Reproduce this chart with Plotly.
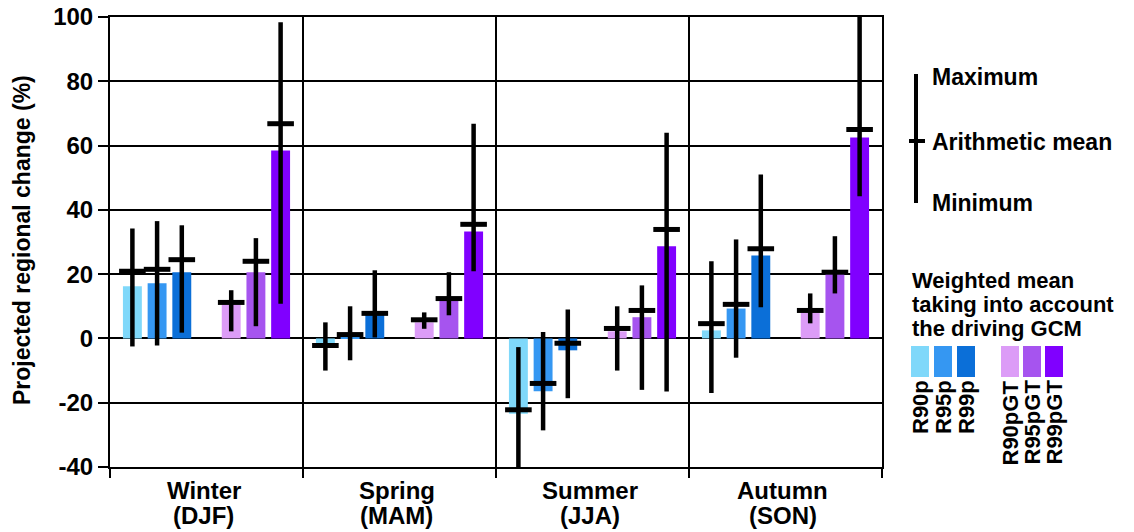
import plotly.graph_objects as go

seasons = ["Winter", "Spring", "Summer", "Autumn"]
season_codes = ["(DJF)", "(MAM)", "(JJA)", "(SON)"]
series = ["R90p", "R95p", "R99p", "R90pGT", "R95pGT", "R99pGT"]
colors = ["#7fd8fa", "#3597f2", "#0b6fd8", "#dc9cf7", "#a654ef", "#8000ff"]
slots = [0, 1, 2, 4, 5, 6]
y_ticks = [-40, -20, 0, 20, 40, 60, 80, 100]
y_tick_labels = ["-40", "-20", "0", "20", "40", "60", "80", "100"]

weighted = {
    "R90p": [16.2, -1.6, -23.4, 2.5],
    "R95p": [17.2, 0.6, -16.4, 9.3],
    "R99p": [20.6, 7.8, -3.7, 25.8],
    "R90pGT": [10.6, 5.0, 2.2, 8.1],
    "R95pGT": [20.6, 11.8, 6.6, 20.2],
    "R99pGT": [58.5, 33.3, 28.7, 62.5],
}
mean = {
    "R90p": [20.9, -2.2, -22.2, 4.6],
    "R95p": [21.5, 1.2, -14.0, 10.6],
    "R99p": [24.5, 7.8, -1.5, 27.9],
    "R90pGT": [11.2, 5.8, 3.1, 8.7],
    "R95pGT": [24.0, 12.4, 8.7, 20.6],
    "R99pGT": [66.8, 35.5, 33.9, 65.0],
}
vmax = {
    "R90p": [34.2, 5.0, -2.7, 24.0],
    "R95p": [36.5, 10.0, 2.0, 30.8],
    "R99p": [35.2, 21.2, 9.0, 51.0],
    "R90pGT": [15.0, 8.1, 10.0, 14.0],
    "R95pGT": [31.2, 20.6, 16.5, 31.8],
    "R99pGT": [98.4, 66.8, 64.0, 100.0],
}
vmin = {
    "R90p": [-2.5, -10.0, -40.0, -17.0],
    "R95p": [-2.2, -6.8, -28.6, -6.0],
    "R99p": [1.8, 0.3, -18.6, 9.7],
    "R90pGT": [2.2, 3.0, -10.0, 4.7],
    "R95pGT": [3.8, 7.2, -16.0, 14.0],
    "R99pGT": [10.8, 20.9, -16.5, 44.2],
}

W, H = 1134, 532
L, R, T, B = 110, 252, 17, 65
PW, PH = W - L - R, H - T - B
FONT = "Liberation Sans"


def px(x):
    return (x - L) / PW


def py(y):
    return (H - B - y) / PH


def bold(size):
    return dict(family=FONT, size=size, weight="bold", color="black")


fig = go.Figure()
step = 0.128
for k, s in enumerate(series):
    xs = [i + (slots[k] - 3) * step for i in range(len(seasons))]
    fig.add_trace(go.Bar(x=xs, y=weighted[s], width=0.098, marker=dict(color=colors[k], line=dict(width=0)),
                         name=s, showlegend=False))
for k, s in enumerate(series):
    xs = [i + (slots[k] - 3) * step for i in range(len(seasons))]
    fig.add_trace(go.Scatter(
        x=xs, y=mean[s], mode="markers", showlegend=False, name=s + " mean",
        marker=dict(symbol="line-ew", size=19, line=dict(width=5, color="black"), color="black"),
        error_y=dict(type="data", symmetric=False,
                     array=[a - m for a, m in zip(vmax[s], mean[s])],
                     arrayminus=[m - b for m, b in zip(mean[s], vmin[s])],
                     thickness=4.5, width=0, color="black"),
    ))

fig.update_layout(
    width=W, height=H, margin=dict(l=L, r=R, t=T, b=B, autoexpand=False),
    plot_bgcolor="white", paper_bgcolor="white", barmode="overlay",
    font=dict(family=FONT, color="black"),
)
fig.update_xaxes(
    range=[-0.5, 3.5], tickvals=list(range(len(seasons))), showticklabels=False,
    ticks="", showgrid=False, zeroline=False, automargin=False,
    showline=True, linecolor="black", linewidth=2, mirror=True,
    minor=dict(tick0=-0.5, dtick=1, showgrid=True, gridcolor="black", gridwidth=2,
               ticks="outside", ticklen=9, tickcolor="black", tickwidth=2),
)
fig.update_yaxes(
    range=[-40, 100], tickvals=y_ticks, ticktext=y_tick_labels,
    showgrid=True, gridcolor="black", gridwidth=2,
    zeroline=True, zerolinecolor="black", zerolinewidth=2, automargin=False,
    showline=True, linecolor="black", linewidth=2, mirror=True,
    ticks="outside", ticklen=10, tickcolor="black", tickwidth=2,
    tickfont=bold(24),
)

# y-axis title
fig.add_annotation(text="Projected regional change (%)", xref="paper", yref="paper", x=px(22), y=py(240),
                   xanchor="center", yanchor="middle", textangle=-90, showarrow=False, font=bold(23))

# season labels (two tight lines)
for i, (sn, sc) in enumerate(zip(seasons, season_codes)):
    fig.add_annotation(text=sn, xref="x", yref="paper", x=i - 0.015, y=py(491), xanchor="center",
                       yanchor="middle", showarrow=False, font=bold(24))
    fig.add_annotation(text=sc, xref="x", yref="paper", x=i - 0.015, y=py(515), xanchor="center",
                       yanchor="middle", showarrow=False, font=bold(24))

# Legend: max / mean / min key
fig.add_shape(type="line", xref="paper", yref="paper", x0=px(916), x1=px(916), y0=py(74), y1=py(203),
              line=dict(color="black", width=4))
fig.add_shape(type="line", xref="paper", yref="paper", x0=px(909), x1=px(925), y0=py(141), y1=py(141),
              line=dict(color="black", width=4))
for txt, yy in [("Maximum", 77), ("Arithmetic mean", 142), ("Minimum", 203)]:
    fig.add_annotation(text=txt, xref="paper", yref="paper", x=px(930), y=py(yy), xanchor="left",
                       yanchor="middle", showarrow=False, font=bold(23))

for txt, yy in [("Weighted mean", 280), ("taking into account", 304), ("the driving GCM", 328)]:
    fig.add_annotation(text=txt, xref="paper", yref="paper", x=px(910), y=py(yy), xanchor="left",
                       yanchor="middle", showarrow=False, font=bold(22))

sw_x = [911, 934, 957, 1001, 1023, 1045]
for k, s in enumerate(series):
    x0 = sw_x[k]
    fig.add_shape(type="rect", xref="paper", yref="paper", x0=px(x0), x1=px(x0 + 18), y0=py(346), y1=py(377),
                  fillcolor=colors[k], line=dict(width=0))
    fig.add_annotation(text=s, xref="paper", yref="paper", x=px(x0 + 9), y=py(378), xanchor="center",
                       yanchor="top", textangle=-90, showarrow=False, font=bold(22))

fig.write_html("out.html", config={"displayModeBar": False},
               post_script="document.body.style.margin='0px';")
